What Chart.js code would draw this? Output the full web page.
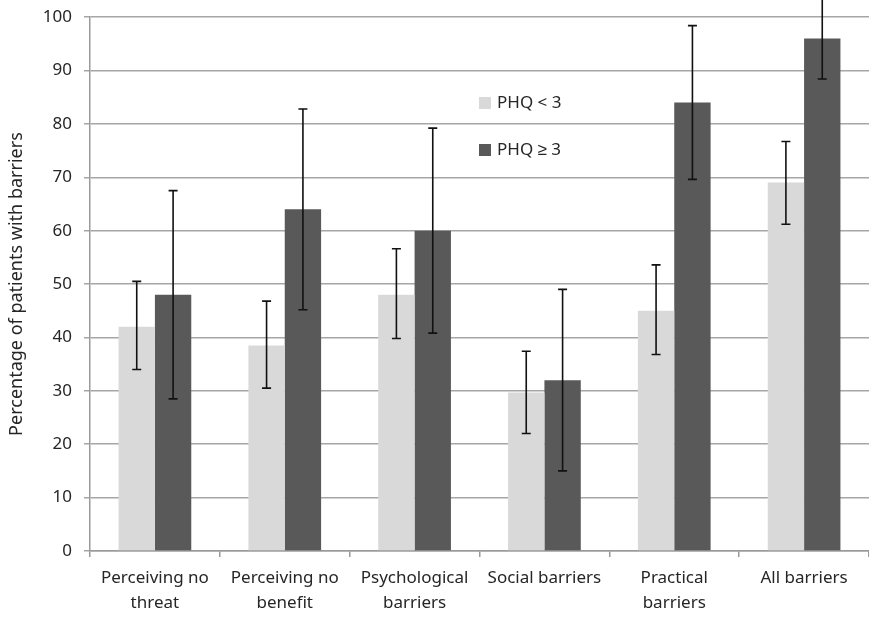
<!DOCTYPE html>
<html>
<head>
<meta charset="utf-8">
<script src="https://cdn.jsdelivr.net/npm/chart.js@4.4.1/dist/chart.umd.min.js"></script>
<style>
    html, body { margin: 0; padding: 0; background: #fff; }
    #wrap { width: 869px; height: 619px; }
</style>
</head>
<body>
<div id="wrap"><canvas id="barChart" width="869" height="619"></canvas></div>
<script>
// ==========================
// DATA
// ==========================
const categories = [
    ["Perceiving no", "threat"],
    ["Perceiving no", "benefit"],
    ["Psychological", "barriers"],
    "Social barriers",
    ["Practical", "barriers"],
    "All barriers"
];

const seriesNames = ["PHQ < 3", "PHQ \u2265 3"];

const lowPhq = [42, 38.5, 48, 29.7, 45, 69];
const lowPhqMin = [34, 30.5, 39.8, 22, 36.8, 61.2];
const lowPhqMax = [50.5, 46.8, 56.6, 37.4, 53.6, 76.7];

const highPhq = [48, 64, 60, 32, 84, 96];
const highPhqMin = [28.5, 45.2, 40.8, 15, 69.6, 88.4];
const highPhqMax = [67.5, 82.8, 79.2, 49, 98.4, 104.5];

const yTicks = [0, 10, 20, 30, 40, 50, 60, 70, 80, 90, 100];

const colors = ["#d9d9d9", "#595959"];
const FONT = "'Noto Sans', sans-serif";
const TEXT = "#262626";

// error bars drawn from the bar elements and the y scale
const errorBars = {
    id: "errorBars",
    afterDatasetsDraw(chart) {
        const ctx = chart.ctx;
        const y = chart.scales.y;
        const ranges = [[lowPhqMin, lowPhqMax], [highPhqMin, highPhqMax]];
        ctx.save();
        ctx.strokeStyle = "#111";
        ctx.lineWidth = 1.6;
        ranges.forEach(function (r, i) {
            chart.getDatasetMeta(i).data.forEach(function (bar, j) {
                const x = bar.x;
                const y1 = y.getPixelForValue(r[0][j]);
                const y2 = y.getPixelForValue(r[1][j]);
                ctx.beginPath();
                ctx.moveTo(x, y1);
                ctx.lineTo(x, y2);
                ctx.moveTo(x - 4.5, y1);
                ctx.lineTo(x + 4.5, y1);
                ctx.moveTo(x - 4.5, y2);
                ctx.lineTo(x + 4.5, y2);
                ctx.stroke();
            });
        });
        ctx.restore();
    }
};

// legend inside the plot
const boxLegend = {
    id: "boxLegend",
    afterDraw(chart) {
        const ctx = chart.ctx;
        ctx.save();
        ctx.font = "17px " + FONT;
        ctx.textBaseline = "middle";
        seriesNames.forEach(function (name, i) {
            const top = 97 + i * 47;
            ctx.fillStyle = colors[i];
            ctx.fillRect(479, top, 12, 12);
            ctx.fillStyle = TEXT;
            ctx.fillText(name, 497, top + 6);
        });
        ctx.restore();
    }
};

new Chart(document.getElementById("barChart"), {
    type: "bar",
    data: {
        labels: categories,
        datasets: [
            {
                label: seriesNames[0],
                data: lowPhq,
                backgroundColor: colors[0],
                categoryPercentage: 0.56,
                barPercentage: 1
            },
            {
                label: seriesNames[1],
                data: highPhq,
                backgroundColor: colors[1],
                categoryPercentage: 0.56,
                barPercentage: 1
            }
        ]
    },
    options: {
        responsive: false,
        animation: false,
        layout: {
            padding: { top: 17, right: 0, bottom: 0, left: 0 }
        },
        scales: {
            x: {
                grid: {
                    drawOnChartArea: false,
                    drawTicks: true,
                    tickLength: 6,
                    color: "#9a9a9a",
                    lineWidth: 1.5
                },
                border: { color: "#9a9a9a", width: 1.5 },
                ticks: {
                    color: TEXT,
                    font: { family: FONT, size: 17, lineHeight: 1.5 },
                    padding: 8,
                    maxRotation: 0,
                    autoSkip: false
                },
                afterFit(scale) { scale.height = 68; }
            },
            y: {
                min: 0,
                max: 100,
                afterBuildTicks(scale) {
                    scale.ticks = yTicks.map(v => ({ value: v }));
                },
                grid: {
                    color: "#a6a6a6",
                    lineWidth: 1.5,
                    tickLength: 6
                },
                border: { color: "#9a9a9a", width: 1.5 },
                ticks: {
                    color: TEXT,
                    font: { family: FONT, size: 17, lineHeight: 0.6 },
                    padding: 12
                },
                title: {
                    display: true,
                    text: "Percentage of patients with barriers",
                    color: TEXT,
                    font: { family: FONT, size: 18 },
                    padding: { top: 6, bottom: 4 }
                },
                afterFit(scale) { scale.width = 90; }
            }
        },
        plugins: {
            legend: { display: false },
            tooltip: { enabled: false }
        }
    },
    plugins: [errorBars, boxLegend]
});
</script>
</body>
</html>
